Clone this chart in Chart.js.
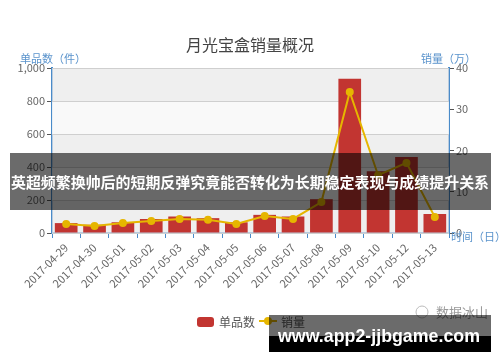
<!DOCTYPE html>
<html lang="zh">
<head>
<meta charset="UTF-8">
<title>月光宝盒销量概况</title>
<script src="https://cdn.jsdelivr.net/npm/chart.js"></script>
<style>
  html, body { margin: 0; padding: 0; background: #fff; }
  #wrap { width: 500px; height: 362px; position: relative; }
</style>
</head>
<body>
<div id="wrap"><canvas id="myChart"></canvas></div>
<script>
// 日期 (x 轴)
const dates = ['2017-04-29', '2017-04-30', '2017-05-01', '2017-05-02', '2017-05-03', '2017-05-04', '2017-05-05',
               '2017-05-06', '2017-05-07', '2017-05-08', '2017-05-09', '2017-05-10', '2017-05-12', '2017-05-13'];
// 单品数 (件) - 柱状
const itemCounts = [60, 50, 65, 85, 100, 90, 65, 110, 100, 205, 935, 375, 460, 115];
// 销量 (万) - 折线
const sales = [2.2, 1.7, 2.4, 2.9, 3.4, 3.2, 2.2, 4.1, 3.4, 7.5, 34.2, 14, 17, 3.9];
// y 轴刻度
const leftTicks = [0, 200, 400, 600, 800, 1000];
const rightTicks = [0, 10, 20, 30, 40];

const FONT = '"Noto Sans CJK SC", "Noto Sans", sans-serif';
const AXIS_BLUE = '#4a8bc9';
const NAME_BLUE = '#5a93cc';

// 背景条纹 + 标题/图例/水印
const decorPlugin = {
    id: 'decor',
    beforeDatasetsDraw(chart) {
        const { ctx, chartArea: a, scales } = chart;
        const y = scales.y;
        ctx.save();
        for (let i = 0; i < leftTicks.length - 1; i++) {
            const top = y.getPixelForValue(leftTicks[i + 1]);
            const bot = y.getPixelForValue(leftTicks[i]);
            ctx.fillStyle = (i % 2 === 0) ? 'rgba(232,232,232,0.7)' : 'rgba(248,248,248,0.9)';
            ctx.fillRect(a.left, top, a.right - a.left, bot - top);
        }
        ctx.strokeStyle = '#cfcfcf';
        ctx.lineWidth = 1;
        leftTicks.forEach(v => {
            const py = Math.round(y.getPixelForValue(v)) + 0.5;
            ctx.beginPath(); ctx.moveTo(a.left, py); ctx.lineTo(a.right, py); ctx.stroke();
        });
        ctx.restore();
    },
    afterDraw(chart) {
        const { ctx } = chart;
        ctx.save();
        // 标题
        ctx.fillStyle = '#444';
        ctx.font = '16px ' + FONT;
        ctx.textAlign = 'center';
        ctx.textBaseline = 'middle';
        ctx.fillText('月光宝盒销量概况', 250, 45);
        // 轴名称
        ctx.font = '11px ' + FONT;
        ctx.fillStyle = NAME_BLUE;
        ctx.textAlign = 'left';
        ctx.fillText('单品数（件）', 20, 59);
        ctx.fillText('销量（万）', 421, 59);
        ctx.fillText('时间（日）', 451, 237);
        // 图例
        ctx.fillStyle = '#c23531';
        ctx.beginPath();
        ctx.roundRect(197, 317, 17, 10, 3);
        ctx.fill();
        ctx.fillStyle = '#555';
        ctx.font = '12px ' + FONT;
        ctx.fillText('单品数', 219, 322);
        ctx.strokeStyle = '#e6b600';
        ctx.lineWidth = 2;
        ctx.beginPath(); ctx.moveTo(259, 321); ctx.lineTo(277, 321); ctx.stroke();
        ctx.fillStyle = '#e6b600';
        ctx.beginPath(); ctx.arc(268, 321, 4, 0, Math.PI * 2); ctx.fill();
        ctx.fillStyle = '#555';
        ctx.fillText('销量', 281, 322);
        // 公众号水印
        ctx.fillStyle = '#999';
        ctx.font = '13px ' + FONT;
        ctx.fillText('数据冰山', 436, 312);
        ctx.strokeStyle = '#bbb';
        ctx.lineWidth = 1;
        ctx.beginPath(); ctx.arc(422, 312, 6, 0, Math.PI * 2); ctx.stroke();
        // 横幅
        ctx.fillStyle = 'rgba(0,0,0,0.58)';
        ctx.fillRect(10, 153, 481, 57);
        ctx.fillStyle = '#fff';
        ctx.font = 'bold 15px ' + FONT;
        ctx.textAlign = 'center';
        ctx.fillText('英超频繁换帅后的短期反弹究竟能否转化为长期稳定表现与成绩提升关系', 250, 182, 478);
        // 底部网址
        ctx.fillStyle = 'rgba(0,0,0,0.58)';
        ctx.fillRect(269, 315, 222, 21);
        ctx.fillStyle = '#000';
        ctx.fillRect(269, 336, 222, 16);
        ctx.fillStyle = '#fff';
        ctx.font = 'bold 19px "Liberation Sans", Arial, sans-serif';
        ctx.textAlign = 'center';
        ctx.fillText('www.app2-jjbgame.com', 379, 337, 202);
        ctx.restore();
    }
};

const ctx = document.querySelector('#myChart');
new Chart(ctx, {
    type: 'bar',
    data: {
        labels: dates,
        datasets: [
            {
                type: 'line',
                label: '销量',
                data: sales,
                yAxisID: 'y1',
                borderColor: '#e6b600',
                backgroundColor: '#e6b600',
                borderWidth: 2,
                pointRadius: 3,
                pointBackgroundColor: '#e6b600',
                tension: 0,
                order: 0
            },
            {
                label: '单品数',
                data: itemCounts,
                yAxisID: 'y',
                backgroundColor: '#c23531',
                categoryPercentage: 0.8,
                barPercentage: 1.0,
                order: 1
            }
        ]
    },
    options: {
        responsive: true,
        maintainAspectRatio: false,
        animation: false,
        layout: { padding: { top: 68, left: 0, right: 0, bottom: 0 } },
        plugins: {
            legend: { display: false },
            title: { display: false },
            tooltip: { enabled: false }
        },
        scales: {
            x: {
                offset: true,
                grid: { offset: true, drawOnChartArea: false, tickLength: 5, tickColor: AXIS_BLUE },
                border: { color: AXIS_BLUE, width: 2 },
                ticks: {
                    autoSkip: false,
                    minRotation: 45,
                    maxRotation: 45,
                    color: '#666',
                    font: { size: 11, family: FONT }
                },
                afterFit(scale) { scale.height = 129; }
            },
            y: {
                position: 'left',
                min: 0, max: 1000,
                afterBuildTicks(scale) { scale.ticks = leftTicks.map(v => ({ value: v })); },
                grid: { drawOnChartArea: false, tickLength: 5, tickColor: '#555' },
                border: { color: AXIS_BLUE, width: 2 },
                ticks: { color: '#666', padding: 2, font: { size: 11, family: FONT } },
                afterFit(scale) { scale.width = 52; }
            },
            y1: {
                position: 'right',
                min: 0, max: 40,
                afterBuildTicks(scale) { scale.ticks = rightTicks.map(v => ({ value: v })); },
                grid: { drawOnChartArea: false, tickLength: 5, tickColor: '#555' },
                border: { color: AXIS_BLUE, width: 2 },
                ticks: { color: '#666', padding: 2, font: { size: 11, family: FONT } },
                afterFit(scale) { scale.width = 51; }
            }
        }
    },
    plugins: [decorPlugin]
});
</script>
</body>
</html>
